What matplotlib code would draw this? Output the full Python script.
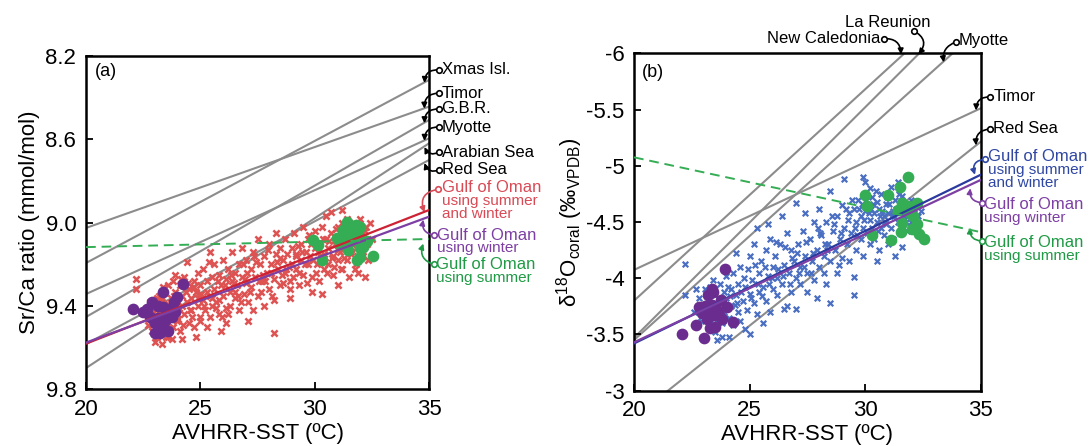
import matplotlib.pyplot as plt

plt.rcParams['font.family'] = ['Liberation Sans', 'DejaVu Sans']
plt.rcParams['mathtext.fontset'] = 'custom'
plt.rcParams['mathtext.rm'] = 'Liberation Sans'

# --- calibration lines, values read at SST = 20 and SST = 35 ---
sst_ends = [20, 35]

srca_names = ['Xmas Isl.', 'Timor', 'G.B.R.', 'Myotte', 'Arabian Sea', 'Red Sea']
srca_at20 = [9.193, 9.025, 9.452, 9.342, 9.697, 9.582]
srca_at35 = [8.315, 8.443, 8.507, 8.595, 8.619, 8.699]
srca_label_y = [8.267, 8.378, 8.454, 8.541, 8.661, 8.747]

oman_srca_all = [9.58, 8.939]
oman_srca_winter = [9.575, 8.971]
oman_srca_summer = [9.117, 9.078]

d18o_names = ['Timor', 'Red Sea']
d18o_at20 = [-4.074, -2.76]
d18o_at35 = [-5.511, -5.214]
d18o_label_y = [-5.612, -5.327]

d18o_top_names = ['New Caledonia', 'La Reunion', 'Myotte']
d18o_top_at20 = [-3.80, -3.47, -3.45]
d18o_top_at35 = [-6.62, -6.545, -6.225]

oman_d18o_all = [-3.42, -4.92]
oman_d18o_winter = [-3.43, -4.874]
oman_d18o_summer = [-5.075, -4.41]

# --- coral data (a) Sr/Ca ---
sst_red = [22.8, 22.9, 23.0, 23.0, 23.1, 23.1, 23.2, 23.2, 23.3, 23.3, 23.4, 23.4, 23.5, 23.5, 22.7, 22.9, 23.0, 23.2, 23.4, 23.5, 22.8, 23.3,
           22.2, 22.2,
           23.6, 23.6, 23.7, 23.7, 23.8, 23.8, 23.9, 23.9, 24.0, 24.0, 24.1, 24.1, 24.2, 24.2, 24.3, 24.3, 24.4, 24.4, 24.5, 24.5, 23.6, 23.9, 24.2,
           24.6, 24.6, 24.7, 24.7, 24.8, 24.9, 24.9, 25.0, 25.0, 25.1, 25.1, 25.2, 25.3, 25.3, 25.4, 25.4, 25.5, 25.5, 24.8,
           25.6, 25.6, 25.7, 25.8, 25.8, 25.9, 26.0, 26.0, 26.1, 26.1, 26.2, 26.3, 26.3, 26.4, 26.4, 26.5, 26.5, 25.9,
           26.6, 26.7, 26.7, 26.8, 26.9, 27.0, 27.0, 27.1, 27.2, 27.2, 27.3, 27.4, 27.5, 27.5, 27.1, 26.8,
           27.6, 27.7, 27.8, 27.9, 28.0, 28.0, 28.1, 28.2, 28.2, 28.3, 28.4, 28.5, 28.5, 27.8, 28.3,
           28.6, 28.7, 28.7, 28.8, 28.9, 29.0, 29.0, 29.1, 29.2, 29.2, 29.3, 29.4, 29.4, 29.5, 29.5, 28.9,
           29.6, 29.7, 29.7, 29.8, 29.9, 30.0, 30.0, 30.1, 30.2, 30.2, 30.3, 30.4, 30.4, 30.5, 30.5, 29.9, 30.3,
           30.6, 30.6, 30.7, 30.8, 30.8, 30.9, 31.0, 31.0, 31.1, 31.1, 31.2, 31.2, 31.3, 31.3, 31.4, 31.4, 31.5, 31.5, 30.7, 31.0, 31.2,
           31.6, 31.6, 31.7, 31.8, 31.8, 31.9, 32.0, 32.0, 32.1, 32.2, 32.3, 32.4, 32.5, 31.9, 32.2]
srca_red = [9.45, 9.52, 9.40, 9.48, 9.36, 9.55, 9.43, 9.50, 9.38, 9.46, 9.33, 9.52, 9.41, 9.47, 9.49, 9.42, 9.57, 9.35, 9.44, 9.55, 9.38, 9.58,
            9.27, 9.32,
            9.30, 9.40, 9.45, 9.36, 9.50, 9.28, 9.42, 9.33, 9.46, 9.38, 9.30, 9.52, 9.40, 9.35, 9.44, 9.26, 9.19, 9.38, 9.48, 9.32, 9.55, 9.25, 9.56,
            9.36, 9.42, 9.28, 9.50, 9.33, 9.40, 9.24, 9.45, 9.30, 9.37, 9.22, 9.42, 9.28, 9.50, 9.14, 9.35, 9.40, 9.26, 9.55,
            9.32, 9.20, 9.38, 9.25, 9.44, 9.30, 9.35, 9.18, 9.27, 9.48, 9.22, 9.33, 9.40, 9.14, 9.28, 9.36, 9.24, 9.52,
            9.30, 9.20, 9.42, 9.26, 9.34, 9.18, 9.29, 9.38, 9.22, 9.31, 9.14, 9.26, 9.08, 9.35, 9.47, 9.12,
            9.20, 9.28, 9.16, 9.24, 9.32, 9.10, 9.20, 9.53, 9.27, 9.15, 9.22, 9.30, 9.12, 9.40, 9.05,
            9.18, 9.24, 9.08, 9.15, 9.28, 9.12, 9.20, 9.05, 9.22, 9.16, 9.30, 9.10, 9.18, 9.25, 9.02, 9.36,
            9.14, 9.20, 9.08, 9.16, 9.26, 9.04, 9.12, 9.20, 9.10, 9.28, 9.02, 9.15, 9.22, 9.08, 8.97, 9.33, 9.34,
            9.12, 9.20, 9.05, 9.16, 9.25, 9.10, 9.02, 9.18, 9.08, 9.14, 9.22, 9.00, 9.12, 9.06, 9.18, 8.98, 9.10, 9.26, 8.95, 9.30, 8.94,
            9.05, 9.15, 9.00, 9.12, 9.20, 9.06, 9.10, 8.98, 9.16, 9.04, 9.10, 9.00, 9.08, 9.24, 9.26]
sst_red2 = [23.05, 23.27, 23.44, 23.66, 23.83, 24.07, 24.23, 24.46, 24.63, 24.88, 25.03, 25.27, 25.44, 25.68, 25.83, 26.07,
            26.22, 26.47, 26.64, 26.86, 27.03, 27.28, 27.43, 27.66, 27.84, 28.07, 28.24, 28.46, 28.63, 28.87, 29.04, 29.26,
            29.43, 29.67, 29.84, 30.06, 30.23, 30.47, 30.64, 30.86, 31.03, 31.27, 31.44, 31.66, 31.83, 32.06, 32.24,
            23.16, 23.35, 23.57, 23.74, 23.96, 24.14, 24.37, 24.55, 24.72, 24.97, 25.14, 25.36, 25.52, 25.77, 25.95, 26.13,
            26.36, 26.53, 26.77, 26.94, 27.16, 27.34, 27.57, 27.73, 27.96, 28.15, 28.33, 28.56, 28.74, 28.93, 29.17, 29.33,
            29.56, 29.74, 29.93, 30.14, 30.37, 30.55, 30.76, 30.93, 31.15, 31.36, 31.53, 31.76, 31.94, 32.13, 32.33]
srca_red2 = [9.42, 9.37, 9.49, 9.43, 9.35, 9.41, 9.49, 9.29, 9.45, 9.36, 9.34, 9.33, 9.45, 9.41, 9.37, 9.30,
             9.44, 9.29, 9.35, 9.20, 9.24, 9.42, 9.19, 9.33, 9.28, 9.24, 9.37, 9.17, 9.29, 9.21, 9.26, 9.11,
             9.14, 9.29, 9.10, 9.24, 9.16, 9.19, 9.09, 9.21, 9.13, 9.17, 9.05, 9.10, 9.16, 9.13, 9.02,
             9.50, 9.31, 9.39, 9.56, 9.47, 9.27, 9.33, 9.42, 9.31, 9.47, 9.40, 9.19, 9.36, 9.28, 9.45, 9.41,
             9.25, 9.33, 9.38, 9.27, 9.33, 9.16, 9.28, 9.25, 9.13, 9.35, 9.19, 9.25, 9.22, 9.32, 9.15, 9.24,
             9.20, 9.06, 9.18, 9.14, 9.08, 9.24, 9.17, 9.03, 9.22, 9.08, 9.14, 9.22, 9.03, 9.07, 9.18]

sst_winter_a = [22.07, 22.65, 22.87, 23.38, 23.35, 23.67, 24.25, 23.96, 23.85, 22.8, 23.16, 23.52, 23.74, 23.02, 23.38, 23.6, 23.24,
                23.09, 23.31, 22.5, 23.0, 23.45, 23.15, 23.9, 23.3]
srca_winter = [9.415, 9.415, 9.38, 9.33, 9.406, 9.415, 9.294, 9.355, 9.379, 9.45, 9.458, 9.45, 9.45, 9.53, 9.50, 9.52, 9.53,
               9.467, 9.475, 9.43, 9.48, 9.47, 9.40, 9.43, 9.51]

sst_summer_a = [31.4, 31.47, 31.98, 31.61, 31.9, 31.68, 31.54, 30.96, 31.1, 29.93, 30.15, 31.47, 32.12, 32.27, 32.56, 31.98, 31.83,
                30.3, 31.25, 31.76, 31.3, 31.8, 32.0]
srca_summer = [8.995, 9.019, 9.019, 9.051, 9.06, 9.083, 9.09, 9.075, 9.10, 9.083, 9.107, 9.13, 9.115, 9.09, 9.16, 9.163, 9.179,
               9.179, 9.035, 9.035, 9.06, 9.01, 9.12]

# --- coral data (b) d18O ---
sst_blue = [22.2, 22.2, 22.6, 22.8, 22.9, 23.0, 22.7,
            23.1, 23.2, 23.3, 23.3, 23.4, 23.5, 23.5, 23.6, 23.7, 23.7, 23.8, 23.9, 23.9, 24.0, 24.0, 23.4, 23.6, 23.8,
            24.1, 24.2, 24.2, 24.3, 24.3, 24.4, 24.5, 24.5, 24.6, 24.6, 24.7, 24.8, 24.8, 24.9, 25.0, 25.0, 25.0, 24.4, 24.1,
            25.1, 25.2, 25.2, 25.3, 25.4, 25.4, 25.5, 25.6, 25.6, 25.7, 25.7, 25.8, 25.9, 25.9, 26.0, 26.0, 25.3, 25.8,
            26.1, 26.2, 26.2, 26.3, 26.4, 26.5, 26.5, 26.6, 26.7, 26.8, 26.8, 26.9, 27.0, 27.0, 26.4, 27.0, 26.6,
            27.1, 27.2, 27.2, 27.3, 27.4, 27.5, 27.5, 27.6, 27.7, 27.8, 27.8, 27.9, 28.0, 28.0, 27.4, 27.9,
            28.1, 28.2, 28.2, 28.3, 28.4, 28.5, 28.5, 28.5, 28.6, 28.7, 28.8, 28.8, 28.9, 29.0, 29.0, 28.3,
            29.1, 29.1, 29.2, 29.3, 29.3, 29.4, 29.5, 29.5, 29.5, 29.6, 29.6, 29.7, 29.8, 29.8, 29.9, 29.9, 29.9, 30.0, 30.0,
            30.1, 30.1, 30.2, 30.2, 30.3, 30.3, 30.4, 30.4, 30.5, 30.5, 30.6, 30.6, 30.7, 30.7, 30.8, 30.8, 30.9, 30.9, 31.0, 31.0, 30.2, 30.5,
            31.1, 31.1, 31.2, 31.2, 31.3, 31.4, 31.4, 31.5, 31.5, 31.6, 31.7, 31.8, 31.8, 31.9, 32.0, 32.0, 31.3, 31.6,
            32.1, 32.2, 32.3, 32.4]
d18o_blue = [-4.13, -3.85, -3.70, -3.82, -3.62, -3.75, -3.90,
             -3.68, -3.80, -3.58, -3.92, -3.72, -3.85, -3.52, -3.65, -3.95, -3.78, -3.60, -3.88, -3.70, -3.82, -4.02, -3.98, -3.45, -3.48,
             -3.65, -3.90, -3.75, -4.05, -3.58, -3.85, -3.70, -3.95, -3.62, -4.10, -3.80, -3.92, -3.55, -3.72, -3.50, -3.86, -4.20, -4.22, -3.48,
             -3.98, -3.78, -4.30, -3.68, -4.05, -3.88, -4.15, -3.60, -3.92, -4.25, -3.80, -4.02, -3.70, -4.35, -3.90, -4.10, -4.45, -4.48,
             -4.20, -3.85, -4.00, -4.30, -3.95, -4.12, -3.73, -4.40, -4.05, -3.88, -4.25, -4.15, -3.73, -4.00, -4.55, -4.67, -3.75,
             -4.30, -4.10, -3.95, -4.42, -4.20, -4.05, -3.88, -4.35, -4.15, -4.50, -3.98, -4.25, -4.10, -4.62, -4.58, -3.82,
             -4.38, -4.20, -4.05, -4.50, -4.30, -4.15, -4.78, -3.78, -4.42, -4.25, -4.55, -4.05, -4.35, -4.18, -4.65, -3.95,
             -4.45, -4.88, -4.30, -4.58, -4.15, -4.40, -3.85, -4.01, -4.62, -4.25, -4.50, -4.70, -4.35, -4.55, -4.90, -4.20, -4.45, -4.60, -4.86,
             -4.40, -4.65, -4.52, -4.30, -4.72, -4.45, -4.58, -4.35, -4.68, -4.50, -4.25, -4.62, -4.45, -4.75, -4.55, -4.38, -4.66, -4.48, -4.58, -4.30, -4.80, -4.15,
             -4.81, -4.45, -4.60, -4.35, -4.70, -4.86, -4.50, -4.62, -4.40, -4.73, -4.55, -4.65, -4.42, -4.58, -4.50, -4.70, -4.20, -4.28,
             -4.62, -4.45, -4.55, -4.60]
sst_blue2 = [22.95, 23.25, 23.55, 23.85, 24.15, 24.45, 24.75, 25.05, 25.35, 25.65, 25.95, 26.25, 26.55, 26.85, 27.15, 27.45,
             27.75, 28.05, 28.35, 28.65, 28.95, 29.25, 29.55, 29.75, 29.95, 30.15, 30.35, 30.55, 30.75, 30.95, 31.15, 31.35,
             31.55, 31.75, 31.95, 30.05, 30.45, 30.85, 31.25, 31.65,
             23.05, 23.45, 23.75, 24.05, 24.35, 24.65, 24.95, 25.25, 25.55, 25.85, 26.15, 26.45, 26.75, 27.05, 27.35, 27.65,
             27.95, 28.25, 28.55, 28.85, 29.15, 29.45, 29.65, 29.85, 30.25, 30.65, 31.05, 31.45, 31.85, 32.15]
d18o_blue2 = [-3.66, -3.86, -3.76, -3.62, -3.84, -3.78, -4.00, -3.82, -3.95, -4.10, -4.00, -4.08, -4.28, -4.18, -4.05, -4.32,
              -4.22, -4.40, -4.25, -4.48, -4.40, -4.52, -4.45, -4.62, -4.52, -4.58, -4.66, -4.42, -4.60, -4.72, -4.55, -4.62,
              -4.68, -4.50, -4.64, -4.70, -4.78, -4.50, -4.55, -4.45,
              -3.90, -3.64, -3.70, -3.92, -3.76, -3.88, -4.08, -4.12, -3.84, -3.95, -4.32, -4.02, -3.95, -4.22, -4.10, -4.05,
              -4.45, -4.30, -4.55, -4.12, -4.62, -4.70, -4.38, -4.66, -4.62, -4.55, -4.66, -4.75, -4.55, -4.50]

sst_winter_b = [22.06, 23.03, 22.68, 23.29, 23.51, 24.27, 23.8, 24.01, 23.77, 23.94, 23.36, 23.22, 22.83, 22.93, 23.07, 23.36,
                23.61, 23.51, 23.29, 23.15, 23.69, 23.4]
d18o_winter = [-3.50, -3.47, -3.58, -3.56, -3.57, -3.61, -3.64, -3.74, -3.81, -4.08, -3.90, -3.85, -3.74, -3.69, -3.75, -3.76,
               -3.72, -3.67, -3.67, -3.64, -3.67, -3.88]

sst_summer_b = [31.87, 31.51, 30.0, 30.97, 30.1, 31.59, 32.24, 31.87, 31.44, 31.81, 32.06, 31.59, 32.24, 32.02, 31.55, 30.29,
                31.1, 32.31, 32.53, 31.95]
d18o_summer = [-4.90, -4.81, -4.74, -4.74, -4.64, -4.67, -4.67, -4.64, -4.61, -4.61, -4.55, -4.49, -4.48, -4.44, -4.41, -4.38,
               -4.34, -4.39, -4.35, -4.58]

gray = '#8c8c8c'
red_x = '#de5252'
red_ln = '#cc2233'
red_tx = '#d94a55'
purple = '#6a2d8f'
purple_tx = '#7d3fa3'
green = '#34ad55'
green_tx = '#1f9a45'
blue_x = '#4a6fc2'
blue_ln = '#2a3a9e'
blue_tx = '#2f47a3'

big = 12
small = 11


def arrow(ax, start, end, color, rad=0.4):
    ax.annotate('', xy=end, xytext=start, annotation_clip=False,
                arrowprops=dict(arrowstyle='-|>', color=color, lw=1.2, mutation_scale=8,
                                shrinkA=0, shrinkB=0, connectionstyle='arc3,rad=%s' % rad))
    ax.plot(start[0], start[1], marker='o', ms=4, mfc='white', mec=color, mew=1.2, clip_on=False, zorder=6)


def style(ax):
    for s in ax.spines.values():
        s.set_linewidth(1.8)
    ax.tick_params(direction='in', length=5, width=1.3, labelsize=16, pad=7, top=False, right=False)


fig = plt.figure(figsize=(10.92, 4.46), dpi=100)

# ---------------- (a) ----------------
ax1 = fig.add_axes([0.0788, 0.1267, 0.3141, 0.7478])
for a, b in zip(srca_at20, srca_at35):
    ax1.plot(sst_ends, [a, b], color=gray, lw=1.5, zorder=1)
ax1.scatter(sst_red + sst_red2, srca_red + srca_red2, marker='x', s=20, linewidths=1.8, color=red_x, zorder=2)
ax1.scatter(sst_winter_a, srca_winter, s=55, color=purple, zorder=3)
ax1.scatter(sst_summer_a, srca_summer, s=55, color=green, zorder=3)
ax1.plot(sst_ends, oman_srca_all, color=red_ln, lw=1.6, zorder=4)
ax1.plot(sst_ends, oman_srca_winter, color=purple_tx, lw=1.6, zorder=4)
ax1.plot(sst_ends, oman_srca_summer, color=green, lw=1.4, ls=(0, (5, 3)), zorder=4)

ax1.set_xlim(20, 35)
ax1.set_ylim(9.8, 8.2)
ax1.set_xticks([20, 25, 30, 35])
ax1.set_yticks([8.2, 8.6, 9.0, 9.4, 9.8])
ax1.set_yticklabels(['8.2', '8.6', '9.0', '9.4', '9.8'])
ax1.set_xlabel('AVHRR-SST (ºC)', fontsize=16, labelpad=2)
ax1.set_ylabel('Sr/Ca ratio (mmol/mol)', fontsize=16, labelpad=4)
style(ax1)
ax1.text(0.025, 0.952, '(a)', transform=ax1.transAxes, fontsize=13, va='center')

for name, a, b, ty in zip(srca_names, srca_at20, srca_at35, srca_label_y):
    ax1.text(35.55, ty, name, fontsize=big, va='center', clip_on=False)
    ly = a + (b - a) * 14.75 / 15
    arrow(ax1, (35.45, ty), (34.8, ly), 'black', rad=0.5 if ty < ly else -0.5)

ax1.text(35.58, 8.833, 'Gulf of Oman', fontsize=big, color=red_tx, va='center')
ax1.text(35.58, 8.896, 'using summer', fontsize=small, color=red_tx, va='center')
ax1.text(35.58, 8.958, 'and winter', fontsize=small, color=red_tx, va='center')
arrow(ax1, (35.4, 8.84), (34.8, 8.95), red_tx, rad=0.6)
ax1.text(35.35, 9.059, 'Gulf of Oman', fontsize=big, color=purple_tx, va='center')
ax1.text(35.35, 9.121, 'using winter', fontsize=small, color=purple_tx, va='center')
arrow(ax1, (35.22, 9.06), (34.75, 8.985), purple_tx, rad=-0.5)
ax1.text(35.3, 9.198, 'Gulf of Oman', fontsize=big, color=green_tx, va='center')
ax1.text(35.3, 9.265, 'using summer', fontsize=small, color=green_tx, va='center')
arrow(ax1, (35.2, 9.2), (34.75, 9.1), green_tx, rad=-0.5)

# ---------------- (b) ----------------
ax2 = fig.add_axes([0.5806, 0.1240, 0.3175, 0.7565])
for a, b in zip(d18o_top_at20 + d18o_at20, d18o_top_at35 + d18o_at35):
    ax2.plot(sst_ends, [a, b], color=gray, lw=1.5, zorder=1)
ax2.scatter(sst_blue + sst_blue2, d18o_blue + d18o_blue2, marker='x', s=16, linewidths=1.6, color=blue_x, zorder=2)
ax2.scatter(sst_winter_b, d18o_winter, s=55, color=purple, zorder=3)
ax2.scatter(sst_summer_b, d18o_summer, s=55, color=green, zorder=3)
ax2.plot(sst_ends, oman_d18o_all, color=blue_ln, lw=1.6, zorder=4)
ax2.plot(sst_ends, oman_d18o_winter, color=purple_tx, lw=1.6, zorder=4)
ax2.plot(sst_ends, oman_d18o_summer, color=green, lw=1.4, ls=(0, (5, 3)), zorder=4)

ax2.set_xlim(20, 35)
ax2.set_ylim(-3, -6)
ax2.set_xticks([20, 25, 30, 35])
ax2.set_yticks([-6, -5.5, -5, -4.5, -4, -3.5, -3])
ax2.set_yticklabels(['-6', '-5.5', '-5', '-4.5', '-4', '-3.5', '-3'])
ax2.set_xlabel('AVHRR-SST (ºC)', fontsize=16, labelpad=2)
ax2.set_ylabel('δ$^{18}$O$_{\\mathrm{coral}}$ (‰$_{\\mathrm{VPDB}}$)', fontsize=16, labelpad=1)
style(ax2)
ax2.text(0.023, 0.944, '(b)', transform=ax2.transAxes, fontsize=13, va='center')

for name, a, b, ty in zip(d18o_names, d18o_at20, d18o_at35, d18o_label_y):
    ax2.text(35.55, ty, name, fontsize=big, va='center', clip_on=False)
    ly = a + (b - a) * 14.8 / 15
    arrow(ax2, (35.42, ty), (34.8, ly), 'black', rad=0.5)

ax2.text(30.65, -6.136, 'New Caledonia', fontsize=big, ha='right', va='center')
arrow(ax2, (30.8, -6.13), (31.55, -5.99), 'black', rad=-0.5)
ax2.text(30.97, -6.278, 'La Reunion', fontsize=big, ha='center', va='center')
arrow(ax2, (32.1, -6.2), (32.3, -5.99), 'black', rad=-0.6)
ax2.text(34.03, -6.118, 'Myotte', fontsize=big, va='center')
arrow(ax2, (33.92, -6.1), (33.4, -5.92), 'black', rad=0.4)

ax2.text(35.3, -5.078, 'Gulf of Oman', fontsize=big, color=blue_tx, va='center')
ax2.text(35.3, -4.963, 'using summer', fontsize=small, color=blue_tx, va='center')
ax2.text(35.3, -4.847, 'and winter', fontsize=small, color=blue_tx, va='center')
arrow(ax2, (35.2, -5.06), (34.75, -4.92), blue_tx, rad=0.6)
ax2.text(35.15, -4.652, 'Gulf of Oman', fontsize=big, color=purple_tx, va='center')
ax2.text(35.15, -4.537, 'using winter', fontsize=small, color=purple_tx, va='center')
arrow(ax2, (35.05, -4.67), (34.55, -4.8), purple_tx, rad=-0.5)
ax2.text(35.15, -4.314, 'Gulf of Oman', fontsize=big, color=green_tx, va='center')
ax2.text(35.15, -4.199, 'using summer', fontsize=small, color=green_tx, va='center')
arrow(ax2, (35.05, -4.33), (34.55, -4.45), green_tx, rad=-0.5)

fig.savefig('out.png', dpi=100)
